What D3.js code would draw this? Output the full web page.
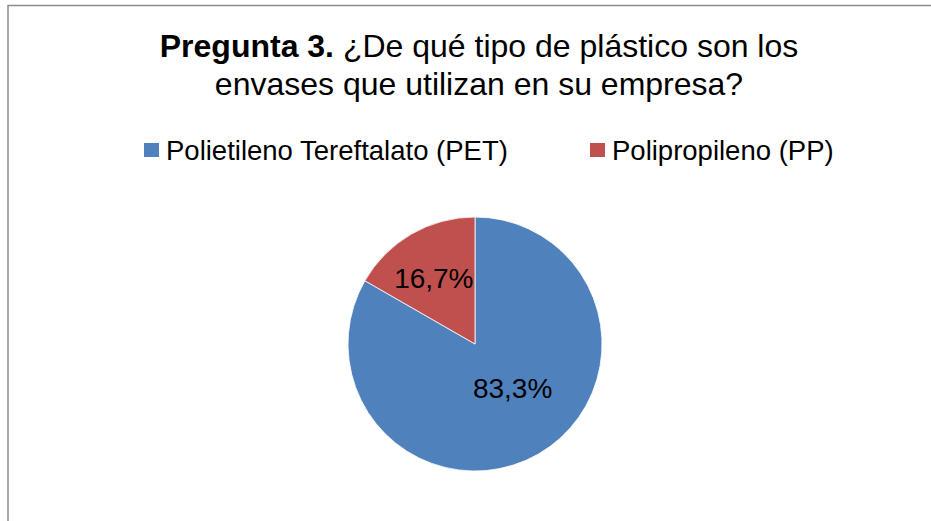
<!DOCTYPE html>
<html>
<head>
<meta charset="utf-8">
<script src="https://cdn.jsdelivr.net/npm/d3@7"></script>
<style>
  body { margin: 0; background: #fff; }
  svg { display: block; font-family: "Liberation Sans", Arial, sans-serif; }
</style>
</head>
<body>
<svg id="chart" width="931" height="521"></svg>
<script>
// data
const categories = ["Polietileno Tereftalato (PET)", "Polipropileno (PP)"];
const values = [83.3, 16.7];
const labels = ["83,3%", "16,7%"];
const colors = ["#4F81BD", "#C0504D"];

let svg = d3.select('#chart');

// chart frame (extends past the window on the right and bottom)
svg.append('rect')
	.attr('x', 8)
	.attr('y', 5.5)
	.attr('width', 1000)
	.attr('height', 600)
	.attr('fill', 'none')
	.attr('stroke', '#8c8c8c')
	.attr('stroke-width', 1.5);

// title
let title = svg.append('text')
	.attr('text-anchor', 'middle')
	.style('font-size', '32px')
	.style('fill', '#000');
let line1 = title.append('tspan').attr('x', 479).attr('y', 57);
line1.append('tspan').style('font-weight', 'bold').text('Pregunta 3.');
line1.append('tspan').text(' ¿De qué tipo de plástico son los');
title.append('tspan').attr('x', 479).attr('y', 95).text('envases que utilizan en su empresa?');

// legend
const legendX = [144, 590];
let legend = svg.selectAll('.legend')
	.data(categories)
	.enter()
	.append('g')
	.attr('class', 'legend')
	.attr('transform', (d, i) => `translate(${legendX[i]},143)`);

legend.append('rect')
	.attr('width', 15)
	.attr('height', 14)
	.style('fill', (d, i) => colors[i]);

legend.append('text')
	.attr('x', 22)
	.attr('y', 7)
	.attr('dy', '0.35em')
	.text(d => d)
	.style('font-size', '27.5px')
	.style('fill', '#000');

// pie
let centerX = 475, centerY = 344, radius = 127;
let pie = d3.pie().sort(null).value(d => d);
let arc = d3.arc().innerRadius(0).outerRadius(radius);
let arcs = pie(values);

let g = svg.append('g').attr('transform', `translate(${centerX},${centerY})`);

g.selectAll('path')
	.data(arcs)
	.enter()
	.append('path')
	.attr('d', arc)
	.style('fill', (d, i) => colors[i])
	.style('stroke', '#fff')
	.style('stroke-width', 0.8);

// Excel-like label placement: distance from centre differs per slice
const labelRadius = [0.45, 0.6];
const labelShift = [[9, -5], [-3, 0]];
g.selectAll('.label')
	.data(arcs)
	.enter()
	.append('text')
	.attr('class', 'label')
	.attr('transform', (d, i) => {
		let r = radius * labelRadius[i];
		let c = d3.arc().innerRadius(r).outerRadius(r).centroid(d);
		return `translate(${c[0] + labelShift[i][0]},${c[1] + labelShift[i][1]})`;
	})
	.attr('text-anchor', 'middle')
	.attr('dy', '0.35em')
	.text((d, i) => labels[i])
	.style('font-size', '28px')
	.style('fill', '#000');
</script>
</body>
</html>
